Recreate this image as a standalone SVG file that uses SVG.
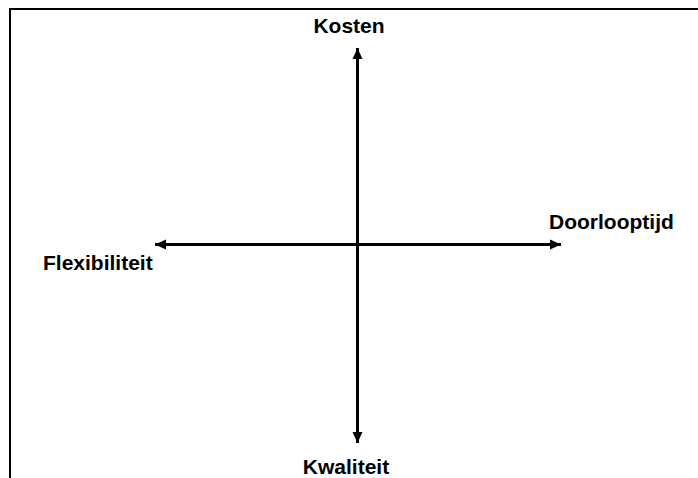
<svg xmlns="http://www.w3.org/2000/svg" width="698" height="478" viewBox="0 0 698 478">
<style>
.lbl{font-family:"Liberation Sans",Arial,sans-serif;font-weight:bold;font-size:21px;fill:#000}
.axis{stroke:#000;stroke-width:3;fill:none}
</style>
<defs>
<marker id="ah" markerUnits="userSpaceOnUse" markerWidth="12" markerHeight="12" viewBox="0 0 12 12" refX="11" refY="6" orient="auto-start-reverse">
<path d="M0,1 L11,6 L0,11 Z" fill="#000"/>
</marker>
</defs>
<rect width="698" height="478" fill="#fff"/>
<path d="M10,478 L10,9 L698,9" fill="none" stroke="#000" stroke-width="2"/>
<g id="connectors">
<line class="axis" x1="357.5" y1="48" x2="357.5" y2="443" marker-start="url(#ah)" marker-end="url(#ah)"/>
<line class="axis" x1="155" y1="244.5" x2="561" y2="244.5" marker-start="url(#ah)" marker-end="url(#ah)"/>
</g>
<g id="kosten"><text class="lbl" x="349" y="33" text-anchor="middle">Kosten</text></g>
<g id="kwaliteit"><text class="lbl" x="346" y="474" text-anchor="middle">Kwaliteit</text></g>
<g id="doorlooptijd"><text class="lbl" x="549" y="229">Doorlooptijd</text></g>
<g id="flexibiliteit"><text class="lbl" x="43" y="270">Flexibiliteit</text></g>
</svg>
